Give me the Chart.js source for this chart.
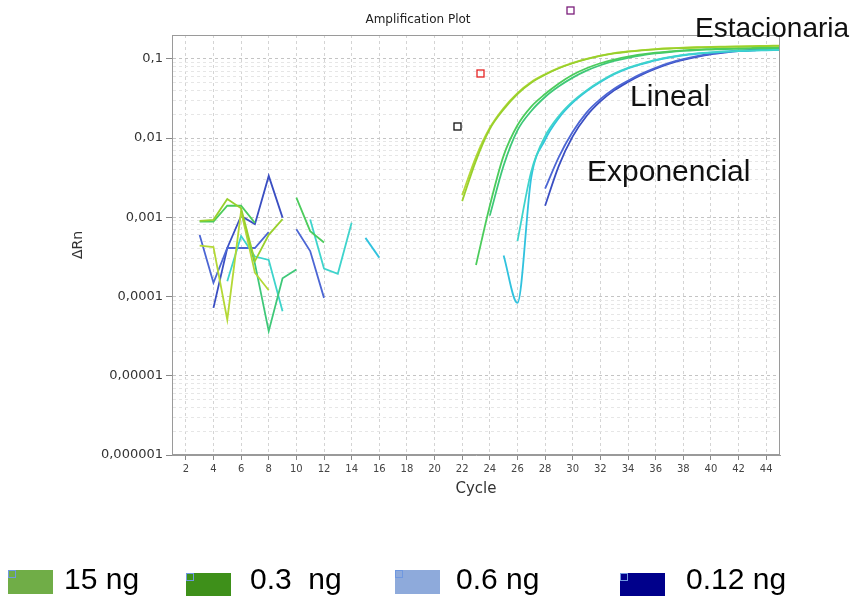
<!DOCTYPE html>
<html>
<head>
<meta charset="utf-8">
<title>Amplification Plot</title>
<script src="https://cdn.jsdelivr.net/npm/chart.js@4.4.1/dist/chart.umd.min.js"></script>
<style>
  html, body { margin: 0; padding: 0; background: #fff; }
  #wrap { width: 854px; height: 596px; position: relative; }
</style>
</head>
<body>
<div id="wrap"><canvas id="amp"></canvas></div>
<script>
const _ = null;

const chartTitle = 'Amplification Plot';
const xTitle = 'Cycle';
const yTitle = 'ΔRn';

const cycles = [1, 2, 3, 4, 5, 6, 7, 8, 9, 10, 11, 12, 13, 14, 15, 16, 17, 18, 19, 20,
  21, 22, 23, 24, 25, 26, 27, 28, 29, 30, 31, 32, 33, 34, 35, 36, 37, 38, 39, 40,
  41, 42, 43, 44, 45];
const xTicks = [2, 4, 6, 8, 10, 12, 14, 16, 18, 20, 22, 24, 26, 28, 30, 32, 34, 36, 38, 40, 42, 44];
const yTickValues = [0.000001, 0.00001, 0.0001, 0.001, 0.01, 0.1];
const yTickLabels = ['0,000001', '0,00001', '0,0001', '0,001', '0,01', '0,1'];

// ΔRn per well, cycles 1..45 (null = not plotted on log scale)
const well1 = [_, _, 0.0009, 0.00093, 0.0017, 0.0013, 0.00028, 0.0006, 0.00095, _,
  _, _, _, _, _, _, _, _, _, _,
  _, 0.0016, 0.0052, 0.013, 0.023, 0.036, 0.050, 0.063, 0.076, 0.088,
  0.099, 0.109, 0.117, 0.123, 0.128, 0.132, 0.135, 0.137, 0.139, 0.141,
  0.142, 0.143, 0.144, 0.145, 0.146];
const well2 = [_, _, 0.00044, 0.00042, 0.000051, 0.0012, 0.0002, 0.00012, _, _,
  _, _, _, _, _, _, _, _, _, _,
  _, 0.0019, 0.0058, 0.0135, 0.024, 0.037, 0.051, 0.064, 0.077, 0.089,
  0.100, 0.110, 0.118, 0.124, 0.129, 0.133, 0.136, 0.138, 0.140, 0.142,
  0.143, 0.144, 0.145, 0.146, 0.147];
const well3 = [_, _, 0.00088, 0.00088, 0.0014, 0.0014, 0.00085, _, _, 0.00177,
  0.00067, 0.00048, _, _, _, _, _, _, _, _,
  _, _, 0.00025, 0.0014, 0.006, 0.0145, 0.025, 0.036, 0.049, 0.063,
  0.076, 0.088, 0.098, 0.107, 0.114, 0.120, 0.124, 0.128, 0.131, 0.133,
  0.135, 0.136, 0.137, 0.138, 0.139];
const well4 = [_, _, _, _, _, 0.0012, 0.00026, 0.0000366, 0.00017, 0.00022,
  _, _, _, _, _, _, _, _, _, _,
  _, _, _, 0.00105, 0.0045, 0.0125, 0.022, 0.033, 0.045, 0.058,
  0.071, 0.083, 0.094, 0.103, 0.111, 0.117, 0.122, 0.126, 0.129, 0.131,
  0.133, 0.134, 0.135, 0.136, 0.137];
const well5 = [_, _, _, _, 0.000156, 0.00058, 0.00032, 0.00029, 0.0000652, _,
  0.00094, 0.000226, 0.000194, 0.000856, _, _, _, _, _, _,
  _, _, _, _, _, 0.0005, 0.0038, 0.0105, 0.019, 0.029,
  0.040, 0.052, 0.065, 0.077, 0.087, 0.097, 0.105, 0.112, 0.117, 0.121,
  0.124, 0.126, 0.128, 0.129, 0.130];
const well6 = [_, _, _, _, _, _, _, _, _, _,
  _, _, _, _, 0.00055, 0.00031, _, _, _, _,
  _, _, _, _, 0.00033, 0.000083, 0.0032, 0.0095, 0.018, 0.028,
  0.039, 0.051, 0.064, 0.076, 0.086, 0.096, 0.104, 0.111, 0.116, 0.120,
  0.123, 0.125, 0.127, 0.128, 0.129];
const well7 = [_, _, 0.0006, 0.000149, 0.00041, 0.00041, 0.00041, 0.00065, _, 0.000705,
  0.000375, 0.0000962, _, _, _, _, _, _, _, _,
  _, _, _, _, _, _, _, 0.0023, 0.0058, 0.012,
  0.021, 0.031, 0.042, 0.053, 0.065, 0.077, 0.089, 0.099, 0.108, 0.116,
  0.122, 0.127, 0.130, 0.132, 0.134];
const well8 = [_, _, _, 0.0000719, 0.00041, 0.00104, 0.00082, 0.00333, 0.00099, _,
  _, _, _, _, _, _, _, _, _, _,
  _, _, _, _, _, _, _, 0.0014, 0.0045, 0.0105,
  0.019, 0.029, 0.040, 0.051, 0.063, 0.075, 0.087, 0.097, 0.106, 0.114,
  0.120, 0.125, 0.128, 0.131, 0.133];

const wells = [well1, well2, well3, well4, well5, well6, well7, well8];
const wellColors = ['#98d02c', '#b4d836', '#4ccc5c', '#3ec878', '#3ed4cc', '#30c2de', '#4c66d4', '#3a4ec2'];
const noiseEnd = 20; // baseline noise drawn straight, amplification drawn smooth

const stageLabels = ['Estacionaria', 'Lineal', 'Exponencial'];
const legendLabels = ['15 ng', '0.3  ng', '0.6 ng', '0.12 ng'];
const legendColors = ['#70ad47', '#3e901a', '#8eaadb', '#00008b'];

const datasets = [];
wells.forEach((vals, i) => {
  const base = { borderColor: wellColors[i], borderWidth: 1.8, pointRadius: 0, fill: false, spanGaps: false };
  datasets.push({
    ...base,
    label: 'well ' + (i + 1) + ' baseline',
    data: vals.map((v, j) => ({ x: cycles[j], y: cycles[j] <= noiseEnd ? v : null })),
    tension: 0
  });
  datasets.push({
    ...base,
    label: 'well ' + (i + 1),
    data: vals.map((v, j) => ({ x: cycles[j], y: cycles[j] > noiseEnd ? v : null })),
    cubicInterpolationMode: 'monotone'
  });
});

// minor log ticks 2..9 within each decade, labels only at decades
function buildYTicks(scale) {
  const out = [];
  yTickValues.forEach((d, i) => {
    out.push({ value: d, lab: yTickLabels[i] });
    for (let k = 2; k <= 9; k++) {
      const v = d * k;
      if (v < scale.max) out.push({ value: v, lab: '' });
    }
  });
  scale.ticks = out;
}

const decor = {
  id: 'decor',
  afterDraw(chart) {
    const { ctx, chartArea: a } = chart;
    ctx.save();
    ctx.strokeStyle = '#9a9a9a';
    ctx.lineWidth = 1;
    ctx.strokeRect(a.left + 0.5, a.top + 0.5, a.right - a.left - 1, a.bottom - a.top - 1);

    ctx.fillStyle = '#222';
    ctx.font = '12px "DejaVu Sans"';
    ctx.textAlign = 'center';
    ctx.textBaseline = 'middle';
    ctx.fillText(chartTitle, 418, 20);

    // phase labels
    ctx.fillStyle = '#111';
    ctx.textAlign = 'left';
    ctx.textBaseline = 'alphabetic';
    ctx.font = '28px "Liberation Sans", Arial';
    ctx.fillText(stageLabels[0], 695, 37);
    ctx.font = '30px "Liberation Sans", Arial';
    ctx.fillText(stageLabels[1], 630, 106);
    ctx.fillText(stageLabels[2], 587, 181);

    // small marker squares
    ctx.lineWidth = 1.3;
    [['#7b1e7b', 570, 10], ['#e52222', 480, 73], ['#111111', 457, 126]].forEach(([c, x, y]) => {
      ctx.strokeStyle = c;
      ctx.strokeRect(x - 3, y - 3, 7, 7);
    });

    // legend
    const lx = [8, 186, 395, 620];
    const ly = [570, 573, 570, 573];
    const tx = [64, 250, 456, 686];
    ctx.font = '30px "Liberation Sans", Arial';
    legendLabels.forEach((lab, i) => {
      ctx.fillStyle = legendColors[i];
      ctx.fillRect(lx[i], ly[i], 45, 24);
      ctx.strokeStyle = '#6f98e0';
      ctx.lineWidth = 1;
      ctx.strokeRect(lx[i] + 0.5, ly[i] + 0.5, 7, 7);
      ctx.fillStyle = '#000';
      ctx.fillText(lab, tx[i], 589);
    });
    ctx.restore();
  }
};

new Chart(document.getElementById('amp'), {
  type: 'line',
  data: { datasets },
  options: {
    responsive: true,
    maintainAspectRatio: false,
    animation: false,
    devicePixelRatio: 1,
    layout: { padding: { top: 35, right: 74, left: 0, bottom: 0 } },
    plugins: { legend: { display: false }, tooltip: { enabled: false }, title: { display: false } },
    scales: {
      x: {
        type: 'linear',
        min: 1,
        max: 45,
        afterBuildTicks: (s) => { s.ticks = xTicks.map(v => ({ value: v })); },
        afterFit: (s) => { s.height = 141; },
        ticks: { color: '#444', font: { family: 'DejaVu Sans', size: 10 }, padding: 3, maxRotation: 0, autoSkip: false },
        grid: { color: '#d4d4d4', tickColor: '#888', tickLength: 5 },
        border: { display: true, color: '#9a9a9a', dash: [3, 3] },
        title: { display: true, text: xTitle, color: '#333', font: { family: 'DejaVu Sans', size: 15 }, padding: { top: 0, bottom: 98 } }
      },
      y: {
        type: 'logarithmic',
        min: 0.000001,
        max: 0.2,
        afterBuildTicks: buildYTicks,
        afterFit: (s) => { s.width = 172; },
        ticks: {
          color: '#333',
          font: { family: 'DejaVu Sans', size: 13 },
          padding: 3,
          autoSkip: false,
          callback: (v, i, t) => t[i].lab
        },
        grid: {
          color: (c) => (c.tick && c.tick.lab ? '#c4c4c4' : '#e6e6e6'),
          tickColor: (c) => (c.tick && c.tick.lab ? '#888' : 'rgba(0,0,0,0)'),
          tickLength: 6
        },
        border: { display: true, color: '#9a9a9a', dash: [3, 3] },
        title: { display: true, text: yTitle, color: '#333', font: { family: 'DejaVu Sans', size: 14 }, padding: { top: 70, bottom: 0 } }
      }
    }
  },
  plugins: [decor]
});
</script>
</body>
</html>
